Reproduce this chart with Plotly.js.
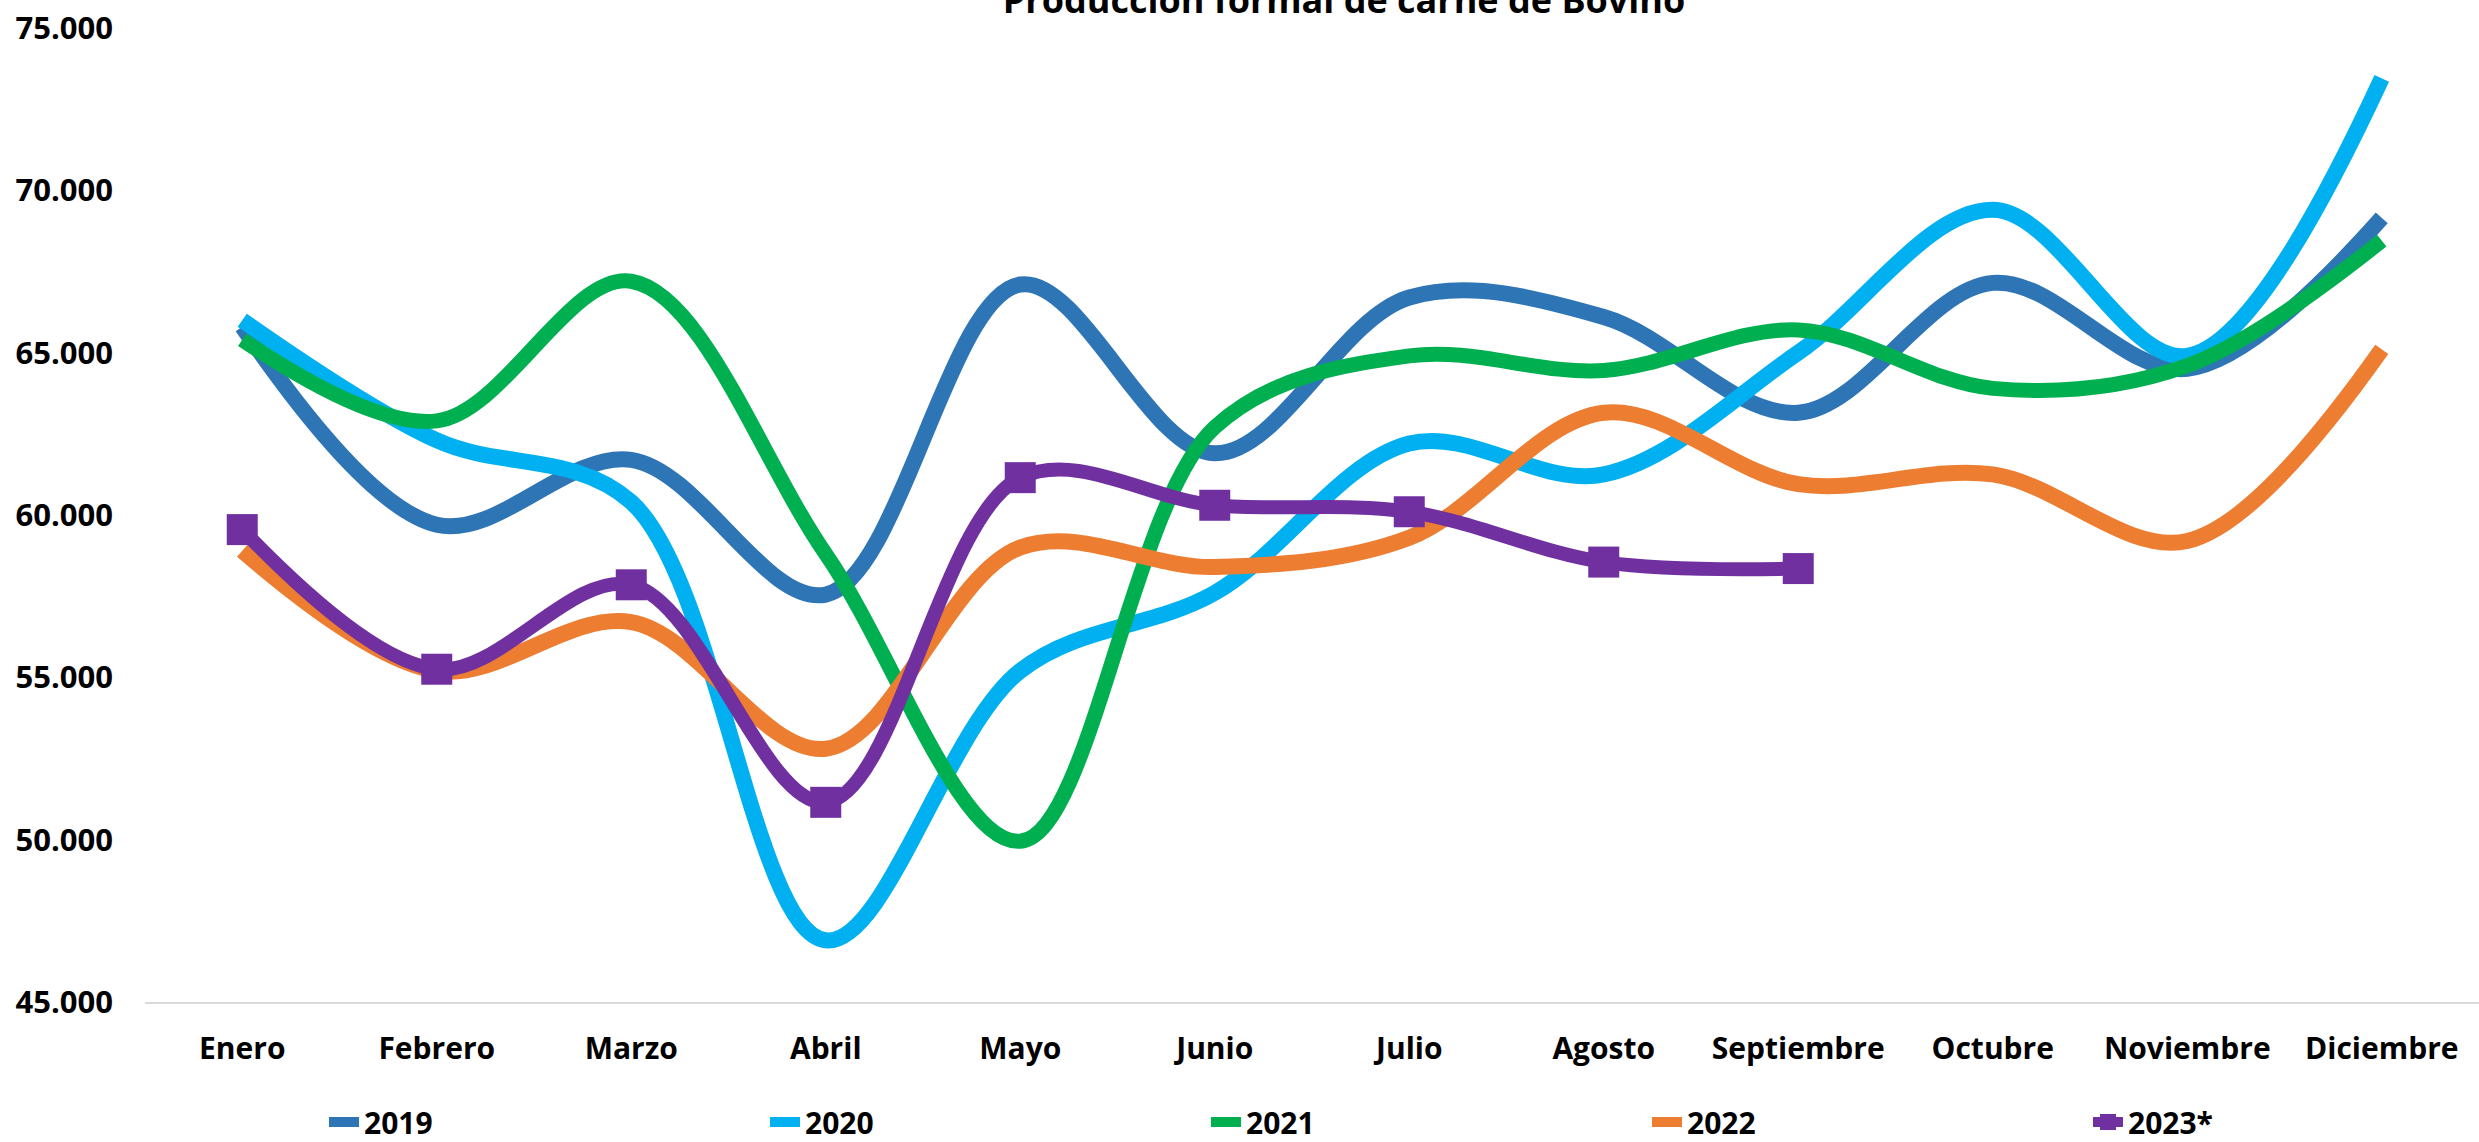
<!DOCTYPE html>
<html>
<head>
<meta charset="utf-8">
<script src="https://cdn.plot.ly/plotly-3.0.1.min.js"></script>
<style>
  html, body { margin: 0; padding: 0; background: #ffffff; }
  #chart { width: 2479px; height: 1142px; }
</style>
</head>
<body>
<div id="chart"></div>
<script>
const months = ['Enero','Febrero','Marzo','Abril','Mayo','Junio','Julio','Agosto','Septiembre','Octubre','Noviembre','Diciembre'];
const months2023 = ['Enero','Febrero','Marzo','Abril','Mayo','Junio','Julio','Agosto','Septiembre'];

const y2019 = [65800, 59700, 61700, 57550, 67100, 61900, 66700, 66100, 63150, 67150, 64500, 69150];
const y2020 = [66000, 62300, 60400, 46900, 55200, 57600, 62200, 61250, 65000, 69400, 64900, 73450];
const y2021 = [65400, 62900, 67200, 58800, 49950, 62700, 64900, 64450, 65700, 63900, 64600, 68450];
const y2022 = [58900, 55200, 56700, 52800, 59000, 58400, 59300, 63150, 60950, 61250, 59200, 65100];
const y2023 = [59550, 55250, 57850, 51150, 61150, 60300, 60100, 58550, 58350];

const seriesNames = ['2019', '2020', '2021', '2022', '2023*'];
const colors = ['#2E75B6', '#00B0F0', '#00B050', '#ED7D31', '#7030A0'];

function lineTrace(name, x, y, color, width) {
  return {
    type: 'scatter', mode: 'lines', name: name, x: x, y: y,
    line: { color: color, width: width, shape: 'spline', smoothing: 1 },
    hoverinfo: 'x+y+name'
  };
}

const traces = [
  lineTrace(seriesNames[0], months, y2019, colors[0], 16),
  lineTrace(seriesNames[1], months, y2020, colors[1], 16),
  lineTrace(seriesNames[2], months, y2021, colors[2], 15),
  lineTrace(seriesNames[3], months, y2022, colors[3], 16),
  {
    type: 'scatter', mode: 'lines+markers', name: seriesNames[4], x: months2023, y: y2023,
    line: { color: colors[4], width: 14, shape: 'spline', smoothing: 1 },
    marker: { symbol: 'square', size: 31, color: colors[4] },
    cliponaxis: false
  }
];

const boldFont = (size) => ({ family: 'Open Sans, Noto Sans, sans-serif', size: size, color: '#000000', weight: 'bold' });

const layout = {
  width: 2479, height: 1142,
  paper_bgcolor: '#ffffff', plot_bgcolor: '#ffffff',
  separators: ',.',
  margin: { l: 145, r: 0, t: 28, b: 140, pad: 0 },
  title: {
    text: 'Producción formal de carne de Bovino',
    font: boldFont(36),
    x: 1344 / 2479, xref: 'container', xanchor: 'center',
    y: 1, yref: 'container', yanchor: 'middle'
  },
  showlegend: true,
  legend: {
    orientation: 'h',
    x: 324 / 2479, xref: 'container', xanchor: 'left',
    y: 20 / 1142, yref: 'container', yanchor: 'middle',
    entrywidth: 396, entrywidthmode: 'pixels',
    font: boldFont(30),
    traceorder: 'normal',
    bgcolor: 'rgba(0,0,0,0)'
  },
  xaxis: {
    type: 'category',
    categoryorder: 'array', categoryarray: months,
    range: [-0.5, 11.5],
    showgrid: false, zeroline: false,
    showline: true, linecolor: '#D9D9D9', linewidth: 2,
    ticks: '',
    tickfont: boldFont(30),
    ticklabelstandoff: 19,
    fixedrange: true
  },
  yaxis: {
    range: [45000, 75000],
    dtick: 5000, tick0: 45000,
    tickformat: ',',
    showgrid: false, zeroline: false, showline: false,
    ticks: '',
    tickfont: boldFont(31),
    ticklabelstandoff: 31,
    fixedrange: true
  }
};

Plotly.newPlot('chart', traces, layout, { displayModeBar: false, staticPlot: true });
</script>
</body>
</html>
